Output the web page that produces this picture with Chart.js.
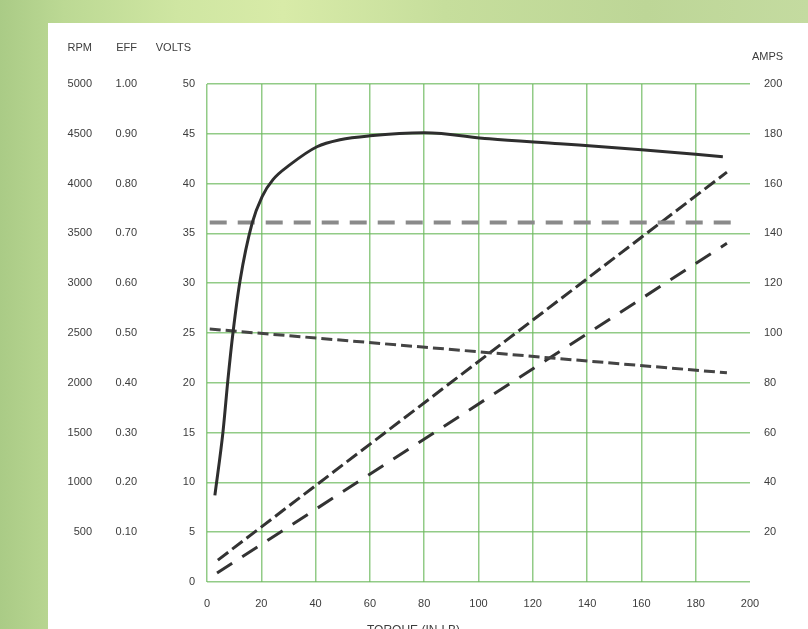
<!DOCTYPE html>
<html>
<head>
<meta charset="utf-8">
<script src="https://cdn.jsdelivr.net/npm/chart.js@4.4.0/dist/chart.umd.min.js"></script>
<style>
    html, body { margin: 0; padding: 0; width: 808px; height: 629px; overflow: hidden; }
    body {
        position: relative;
        background: linear-gradient(90deg, #aacb86 0%, #bcd994 8%, #cfe6a2 22%, #d8eba8 35%, #c6de9c 55%, #bdd697 80%, #c4dba0 100%);
    }
    #panel { position: absolute; left: 48px; top: 23px; right: 0; bottom: 0; background: #fff; }
    #chart { position: absolute; left: 0; top: 0; }
</style>
</head>
<body>
<div id="panel"></div>
<canvas id="chart" width="808" height="629"></canvas>
<script>
// Data (torque on the x axis)
const xTicks = [0, 20, 40, 60, 80, 100, 120, 140, 160, 180, 200];

const effTorque = [2.9, 5.9, 7.7, 9.6, 12.2, 16.6, 20.3, 24.3, 30.6, 40.5, 49, 60, 80, 104, 130, 160, 190];
const effValues = [0.174, 0.302, 0.406, 0.502, 0.606, 0.72, 0.774, 0.808, 0.838, 0.874, 0.888, 0.896, 0.902, 0.89, 0.88, 0.868, 0.854];

const voltsTorque = [1, 195];
const voltsValues = [36.1, 36.1];

const rpmTorque = [1, 191.5];
const rpmValues = [2540, 2100];

const ampsTorque = [4, 191.5];
const ampsValues = [8.8, 164.6];

const amps2Torque = [3.7, 191.5];
const amps2Values = [3.6, 136];

const GRID_GREEN = 'rgba(110, 185, 95, 0.75)';
const TEXT_COLOR = '#3c3c3c';
const FONT = { family: "'Liberation Sans', Arial, sans-serif", size: 11 };

function toPoints(xs, ys) {
    return xs.map((x, i) => ({ x: x, y: ys[i] }));
}

function fixWidth(w) {
    return function(scale) { scale.width = w; };
}

// Axis headers and the x-axis title
const headerPlugin = {
    id: 'headers',
    afterDraw(chart) {
        const ctx = chart.ctx;
        const s = chart.scales;
        ctx.save();
        ctx.font = "11px 'Liberation Sans', Arial, sans-serif";
        ctx.fillStyle = TEXT_COLOR;
        ctx.textBaseline = 'middle';
        ctx.textAlign = 'right';
        ctx.fillText('RPM', s.rpm.right - 12, 48);
        ctx.fillText('EFF', s.eff.right - 13, 48);
        ctx.fillText('VOLTS', s.volts.right - 16, 48);
        ctx.textAlign = 'left';
        ctx.fillText('AMPS', s.amps.left + 2, 57);
        ctx.textBaseline = 'top';
        ctx.font = "12px 'Liberation Sans', Arial, sans-serif";
        ctx.fillText('TORQUE (IN-LB)', 367, 625);
        ctx.restore();
    }
};

const chart = new Chart(document.getElementById('chart').getContext('2d'), {
    type: 'line',
    data: {
        datasets: [
            {
                label: 'Efficiency',
                data: toPoints(effTorque, effValues),
                yAxisID: 'eff',
                borderColor: '#2e2e2e',
                borderWidth: 3,
                cubicInterpolationMode: 'monotone',
                pointRadius: 0
            },
            {
                label: 'Volts',
                data: toPoints(voltsTorque, voltsValues),
                yAxisID: 'volts',
                borderColor: '#8a8a8a',
                borderWidth: 4,
                borderDash: [17, 11],
                pointRadius: 0
            },
            {
                label: 'RPM',
                data: toPoints(rpmTorque, rpmValues),
                yAxisID: 'rpm',
                borderColor: '#444',
                borderWidth: 3,
                borderDash: [11, 5],
                pointRadius: 0
            },
            {
                label: 'Amps',
                data: toPoints(ampsTorque, ampsValues),
                yAxisID: 'amps',
                borderColor: '#333',
                borderWidth: 3,
                borderDash: [13, 5],
                pointRadius: 0
            },
            {
                label: 'Amps 2',
                data: toPoints(amps2Torque, amps2Values),
                yAxisID: 'amps',
                borderColor: '#333',
                borderWidth: 3,
                borderDash: [18, 12],
                pointRadius: 0
            }
        ]
    },
    options: {
        responsive: false,
        animation: false,
        layout: { padding: { left: 48, top: 84, right: 0, bottom: 0 } },
        plugins: {
            legend: { display: false },
            tooltip: { enabled: false }
        },
        scales: {
            x: {
                type: 'linear',
                min: 0,
                max: 200,
                afterBuildTicks: function(scale) {
                    scale.ticks = xTicks.map(v => ({ value: v }));
                },
                afterFit: function(scale) { scale.height = 47; },
                ticks: { color: TEXT_COLOR, font: FONT, padding: 15, maxRotation: 0 },
                grid: {
                    color: ctx => (ctx.tick && ctx.tick.value === 200) ? 'rgba(0,0,0,0)' : GRID_GREEN,
                    lineWidth: 1.5,
                    drawTicks: false
                },
                border: { display: false }
            },
            volts: {
                type: 'linear',
                position: 'left',
                weight: 0,
                min: 0,
                max: 50,
                afterFit: fixWidth(57),
                ticks: { stepSize: 5, color: TEXT_COLOR, font: FONT, padding: 12 },
                grid: { color: GRID_GREEN, lineWidth: 1.5, drawTicks: false },
                border: { display: false }
            },
            eff: {
                type: 'linear',
                position: 'left',
                weight: 1,
                min: 0,
                max: 1,
                afterFit: fixWidth(46),
                ticks: {
                    stepSize: 0.1,
                    color: TEXT_COLOR,
                    font: FONT,
                    padding: 13,
                    callback: v => (Math.abs(v) < 1e-6 ? '' : v.toFixed(2))
                },
                grid: { display: false, drawTicks: false },
                border: { display: false }
            },
            rpm: {
                type: 'linear',
                position: 'left',
                weight: 2,
                min: 0,
                max: 5000,
                afterFit: fixWidth(56),
                ticks: {
                    stepSize: 500,
                    color: TEXT_COLOR,
                    font: FONT,
                    padding: 12,
                    callback: v => (v === 0 ? '' : v)
                },
                grid: { display: false, drawTicks: false },
                border: { display: false }
            },
            amps: {
                type: 'linear',
                position: 'right',
                min: 0,
                max: 200,
                afterFit: fixWidth(58),
                ticks: {
                    stepSize: 20,
                    color: TEXT_COLOR,
                    font: FONT,
                    padding: 14,
                    callback: v => (v === 0 ? '' : v)
                },
                grid: { display: false, drawTicks: false },
                border: { display: false }
            }
        }
    },
    plugins: [headerPlugin]
});
</script>
</body>
</html>
